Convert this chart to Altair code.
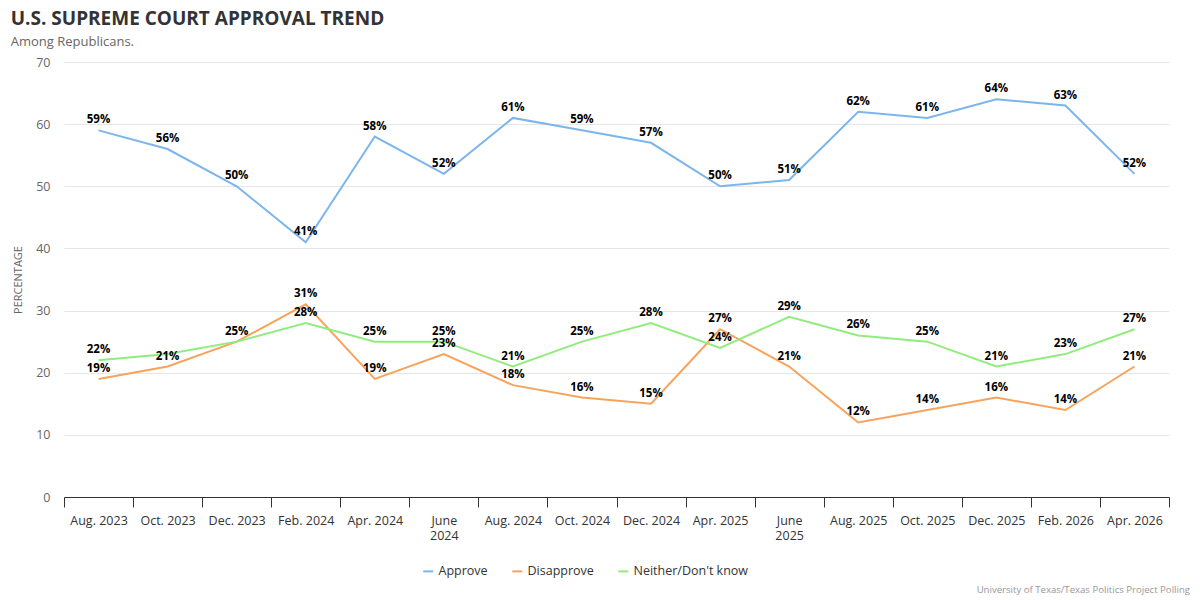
import altair as alt
import pandas as pd

months = ["Aug. 2023", "Oct. 2023", "Dec. 2023", "Feb. 2024", "Apr. 2024", "June 2024",
          "Aug. 2024", "Oct. 2024", "Dec. 2024", "Apr. 2025", "June 2025", "Aug. 2025",
          "Oct. 2025", "Dec. 2025", "Feb. 2026", "Apr. 2026"]
approve = [59, 56, 50, 41, 58, 52, 61, 59, 57, 50, 51, 62, 61, 64, 63, 52]
disapprove = [19, 21, 25, 31, 19, 23, 18, 16, 15, 27, 21, 12, 14, 16, 14, 21]
neither = [22, 23, 25, 28, 25, 25, 21, 25, 28, 24, 29, 26, 25, 21, 23, 27]
series_names = ["Approve", "Disapprove", "Neither/Don't know"]
series_colors = ["#7cb5ec", "#f7a35c", "#90ed7d"]
# labels hidden in the original because they collide with another label
hidden_labels = [("Neither/Don't know", "Oct. 2023"), ("Neither/Don't know", "Dec. 2023")]

rows = []
for name, vals in zip(series_names, [approve, disapprove, neither]):
    for i, (m, v) in enumerate(zip(months, vals)):
        rows.append({"month": m, "series": name, "value": v, "order": i,
                     "lbl": f"{v}%", "show": 0 if (name, m) in hidden_labels else 1})
df = pd.DataFrame(rows)

FONT = "Open Sans"

x_enc = alt.X("month:N", sort=months, title=None,
              scale=alt.Scale(type="band", paddingInner=0, paddingOuter=0),
              axis=alt.Axis(tickBand="extent", labelAngle=0, labelColor="#333333",
                            labelFontSize=12.5, labelFont=FONT, domainColor="#333333",
                            tickColor="#333333", tickSize=10, labelPadding=7,
                            labelLineHeight=15,
                            labelExpr="(datum.label == 'June 2024' || datum.label == 'June 2025') ? split(datum.label, ' ') : datum.label",
                            grid=False))
y_enc = alt.Y("value:Q", title="PERCENTAGE",
              scale=alt.Scale(domain=[0, 70], nice=False),
              axis=alt.Axis(values=[0, 10, 20, 30, 40, 50, 60, 70], domain=False, ticks=False,
                            gridColor="#e6e6e6", labelColor="#666666", labelFontSize=12.5,
                            labelFont=FONT, labelPadding=14, titleColor="#666666",
                            titleFont=FONT, titleFontSize=11, titleFontWeight="normal",
                            titlePadding=12))
color_enc = alt.Color("series:N",
                      scale=alt.Scale(domain=series_names, range=series_colors),
                      legend=alt.Legend(title=None, orient="none", direction="horizontal",
                                        legendX=358, legendY=503, labelFont=FONT,
                                        labelFontSize=12.5, labelColor="#333333",
                                        symbolType="stroke", symbolStrokeWidth=2,
                                        columnPadding=20))

base = alt.Chart(df)
lines = base.mark_line(strokeWidth=2).encode(
    x=x_enc, y=y_enc, color=color_enc, order="order:Q")

labels = base.transform_filter("datum.show == 1").mark_text(
    dy=-10, fontWeight="bold", fontSize=11.5, font=FONT, color="#000000"
).encode(
    x=alt.X("month:N", sort=months),
    y="value:Q",
    text="lbl:N",
)

source = alt.Chart(pd.DataFrame({"t": ["University of Texas/Texas Politics Project Polling"]})).mark_text(
    align="right", baseline="middle", fontSize=9.6, font=FONT, color="#999999"
).encode(x=alt.value(1126), y=alt.value(528), text="t:N")

chart = alt.layer(lines, labels, source).properties(
    width=1105, height=435,
    title=alt.TitleParams(
        text="U.S. SUPREME COURT APPROVAL TREND",
        subtitle="Among Republicans.",
        anchor="start", dx=-2, offset=7,
        font=FONT, fontSize=19, fontWeight="bold", color="#333333",
        subtitleFont=FONT, subtitleFontSize=13, subtitleColor="#666666", subtitlePadding=7),
    autosize=alt.AutoSizeParams(type="none"),
    padding={"left": 56, "top": 54, "right": 23, "bottom": 100},
).configure_view(stroke=None)

chart.save("out.html", embed_options={"renderer": "svg", "actions": False})
